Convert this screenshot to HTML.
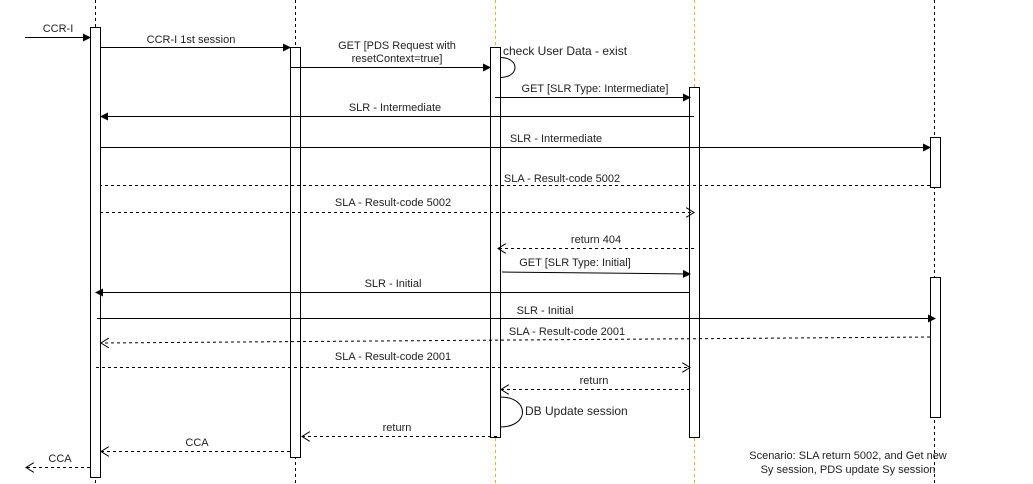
<!DOCTYPE html>
<html><head><meta charset="utf-8"><style>body{margin:0;background:#fff}svg{display:block}text{font-family:"Liberation Sans",sans-serif;font-size:11px;fill:#222}</style></head><body>
<svg width="1033" height="484" viewBox="0 0 1033 484" xmlns="http://www.w3.org/2000/svg">
<defs>
<marker id="f" markerWidth="8" markerHeight="8" refX="7" refY="4" orient="auto" markerUnits="userSpaceOnUse"><path d="M0,0 L8,4 L0,8 Z" fill="#000"/></marker>
<marker id="o" markerWidth="9" markerHeight="10" refX="8" refY="5" orient="auto" markerUnits="userSpaceOnUse"><path d="M0,0 L8,5 L0,10" fill="none" stroke="#000"/></marker>
</defs>
<g stroke-width="1" stroke-dasharray="3,3" fill="none">
<line x1="95.5" y1="0" x2="95.5" y2="484" stroke="#000"/>
<line x1="295.5" y1="0" x2="295.5" y2="484" stroke="#000"/>
<line x1="495.5" y1="0" x2="495.5" y2="484" stroke="#e8b040"/>
<line x1="694.5" y1="0" x2="694.5" y2="484" stroke="#e8b040"/>
<line x1="934.5" y1="0" x2="934.5" y2="484" stroke="#000"/>
</g>
<g fill="#fff" stroke="#000">
<rect x="90.5" y="27.5" width="10" height="450"/>
<rect x="290.5" y="47.5" width="10" height="410"/>
<rect x="490.5" y="47.5" width="10" height="390"/>
<rect x="689.5" y="87.5" width="10" height="350"/>
<rect x="930.5" y="137.5" width="10" height="50"/>
<rect x="930.5" y="277.5" width="10" height="140"/>
</g>
<g stroke="#000" fill="none">
<line x1="25" y1="37.5" x2="90" y2="37.5" marker-end="url(#f)"/>
<line x1="100" y1="47.5" x2="290" y2="47.5" marker-end="url(#f)"/>
<line x1="290" y1="67.5" x2="490" y2="67.5" marker-end="url(#f)"/>
<path d="M500,57.5 C520,57.5 520,77.5 500,77.5"/>
<line x1="495" y1="97.5" x2="690" y2="97.5" marker-end="url(#f)"/>
<line x1="694" y1="116.5" x2="101" y2="116.5" marker-end="url(#f)"/>
<line x1="100" y1="147.5" x2="930" y2="147.5" marker-end="url(#f)"/>
<line x1="930" y1="185.5" x2="100" y2="185.5" stroke-dasharray="3,3"/>
<line x1="100" y1="212.5" x2="694" y2="212.5" stroke-dasharray="3,3" marker-end="url(#o)"/>
<line x1="694" y1="248.5" x2="498" y2="248.5" stroke-dasharray="3,3" marker-end="url(#o)"/>
<line x1="502" y1="272" x2="690" y2="274" marker-end="url(#f)"/>
<line x1="690" y1="292.5" x2="96" y2="292.5" marker-end="url(#f)"/>
<line x1="97" y1="318.5" x2="935" y2="318.5" marker-end="url(#f)"/>
<line x1="930" y1="337" x2="101" y2="343" stroke-dasharray="3,3" marker-end="url(#o)"/>
<line x1="96" y1="367.5" x2="690" y2="367.5" stroke-dasharray="3,3" marker-end="url(#o)"/>
<line x1="690" y1="389.5" x2="501" y2="389.5" stroke-dasharray="3,3" marker-end="url(#o)"/>
<path d="M500,397 C530,397 530,427 500,427"/>
<line x1="497" y1="436.5" x2="302" y2="436.5" stroke-dasharray="3,3" marker-end="url(#o)"/>
<line x1="290" y1="451.5" x2="101" y2="451.5" stroke-dasharray="3,3" marker-end="url(#o)"/>
<line x1="90" y1="467.5" x2="26" y2="467.5" stroke-dasharray="3,3" marker-end="url(#o)"/>
</g>
<g text-anchor="middle">
<text x="58" y="32">CCR-I</text>
<text x="191" y="43">CCR-I 1st session</text>
<text x="397" y="49">GET [PDS Request with</text>
<text x="397" y="62">resetContext=true]</text>
<text x="595" y="92">GET [SLR Type: Intermediate]</text>
<text x="395" y="111">SLR - Intermediate</text>
<text x="556" y="142">SLR - Intermediate</text>
<text x="562" y="182">SLA - Result-code 5002</text>
<text x="393" y="206">SLA - Result-code 5002</text>
<text x="596" y="243">return 404</text>
<text x="575" y="266">GET [SLR Type: Initial]</text>
<text x="393" y="287">SLR - Initial</text>
<text x="545" y="314">SLR - Initial</text>
<text x="567" y="335">SLA - Result-code 2001</text>
<text x="393" y="360">SLA - Result-code 2001</text>
<text x="594" y="384">return</text>
<text x="397" y="431">return</text>
<text x="197" y="446">CCA</text>
<text x="60" y="462">CCA</text>
<text x="848" y="459">Scenario: SLA return 5002, and Get new</text>
<text x="848" y="473">Sy session, PDS update Sy session</text>
</g>
<text x="503" y="55" style="font-size:12px">check User Data - exist</text>
<text x="525" y="415" style="font-size:12px">DB Update session</text>
</svg>
</body></html>
